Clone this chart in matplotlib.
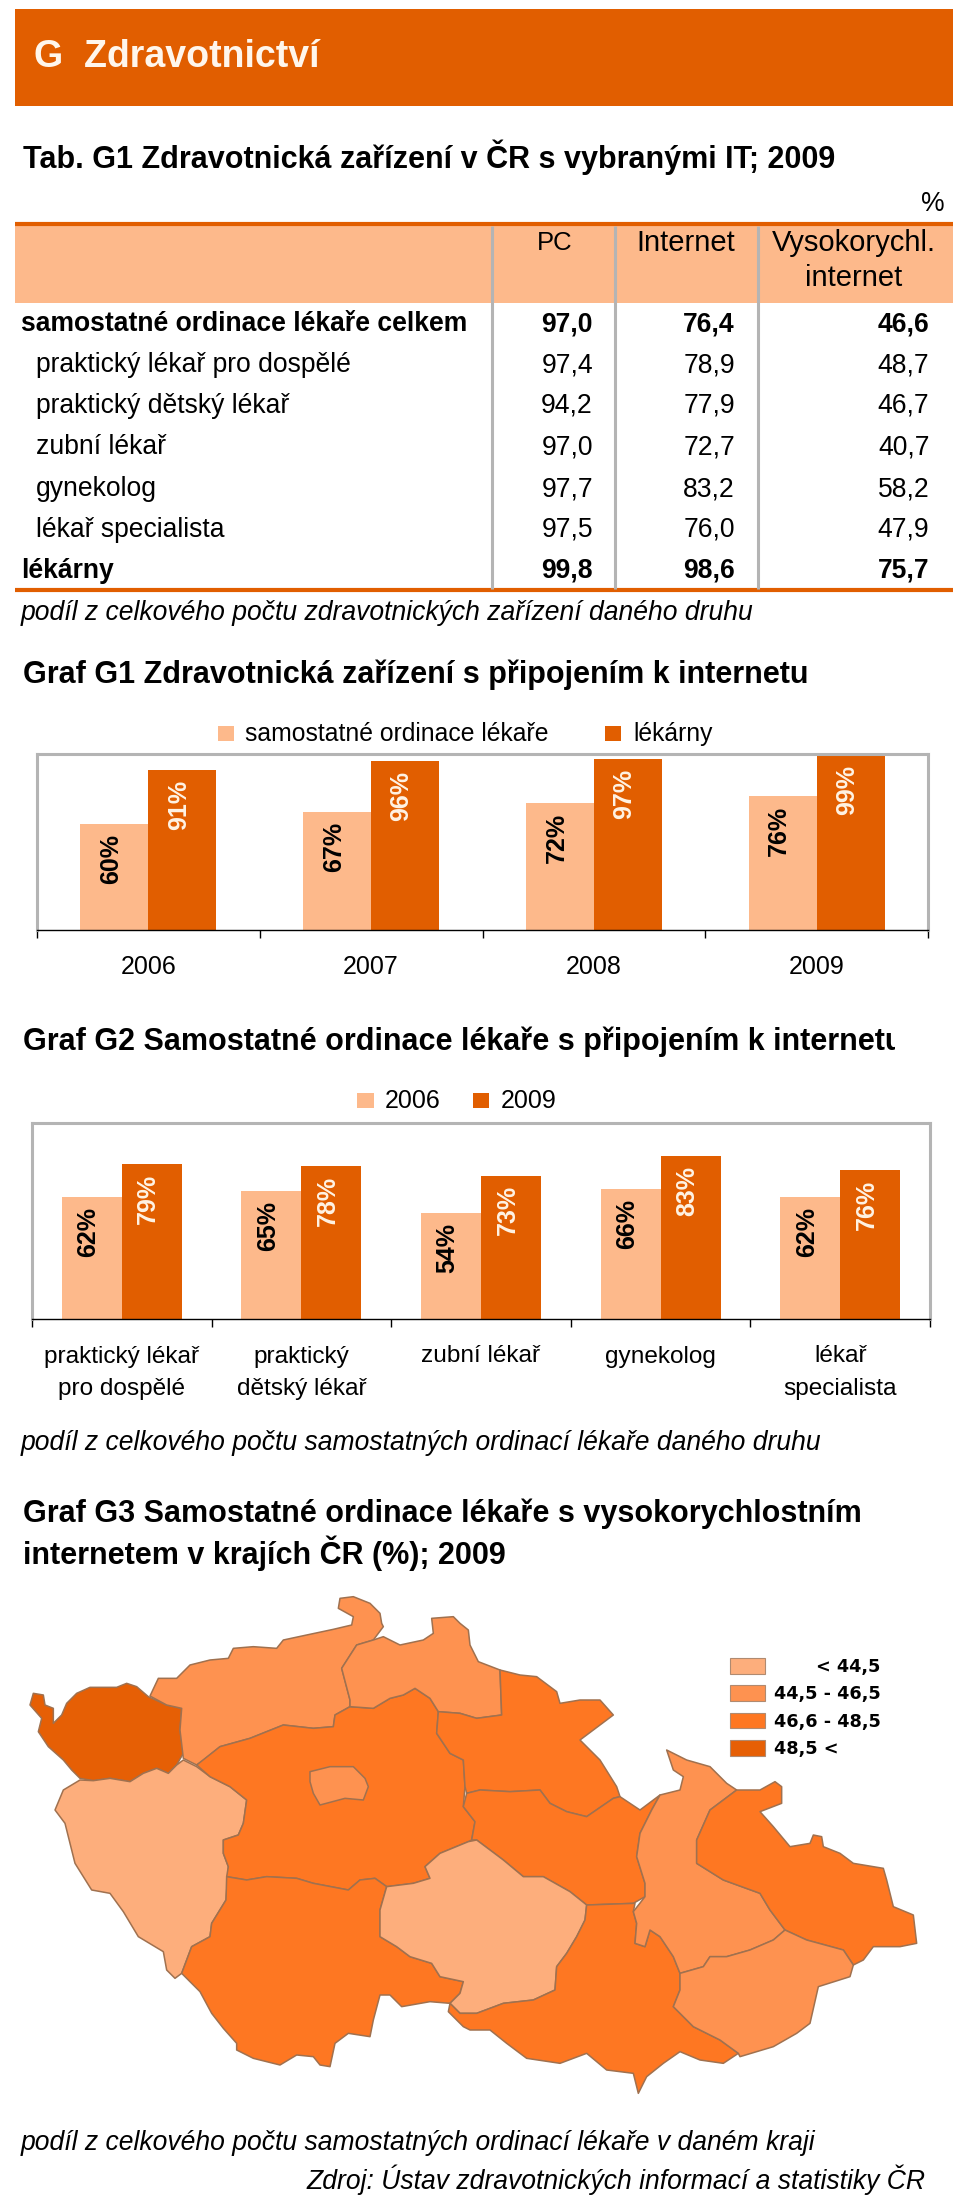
import matplotlib
matplotlib.use("Agg")
import matplotlib.pyplot as plt
from matplotlib.patches import Rectangle
from matplotlib.transforms import Bbox

plt.rcParams["font.family"] = ["Liberation Sans", "DejaVu Sans"]

DARK = "#E15E00"
LIGHT = "#FDB98B"
GREY = "#B4B4B4"

# table
table_cols = ["PC", "Internet", "Vysokorychl.\ninternet"]
table_rows = ["samostatné ordinace lékaře celkem", "praktický lékař pro dospělé", "praktický dětský lékař",
              "zubní lékař", "gynekolog", "lékař specialista", "lékárny"]
table_bold = [True, False, False, False, False, False, True]
table_pc = ["97,0", "97,4", "94,2", "97,0", "97,7", "97,5", "99,8"]
table_net = ["76,4", "78,9", "77,9", "72,7", "83,2", "76,0", "98,6"]
table_fast = ["46,6", "48,7", "46,7", "40,7", "58,2", "47,9", "75,7"]

# graf G1
g1_years = ["2006", "2007", "2008", "2009"]
g1_ordinace = [60, 67, 72, 76]
g1_lekarny = [91, 96, 97, 99]

# graf G2
g2_cats = ["praktický lékař\npro dospělé", "praktický\ndětský lékař", "zubní lékař", "gynekolog", "lékař\nspecialista"]
g2_2006 = [62, 65, 54, 66, 62]
g2_2009 = [79, 78, 73, 83, 76]

# graf G3, kraje: outlines, values are map units
map_colors = ["#FDAE7C", "#FE9250", "#FE7722", "#E65F05"]
map_labels = ["< 44,5", "44,5 - 46,5", "46,6 - 48,5", "48,5 <"]

karlovarsky = [(40, 310), (70, 315), (75, 345), (100, 355), (100, 400), (125, 375), (140, 340), (170, 310), (210, 292),
               (290, 292), (320, 280), (350, 290), (385, 320), (440, 345), (485, 355), (480, 420), (490, 490), (470, 525),
               (445, 550), (410, 535), (370, 550), (330, 575), (270, 565), (220, 572), (180, 565), (155, 540), (130, 510),
               (85, 470), (55, 425), (65, 385), (30, 345)]
plzensky = [(490, 510), (530, 530), (570, 560), (630, 590), (680, 630), (670, 700), (655, 735), (610, 750), (610, 790),
            (625, 830), (618, 930), (575, 1000), (570, 1040), (515, 1070), (485, 1150), (465, 1165), (440, 1140),
            (430, 1085), (355, 1040), (310, 965), (270, 910), (215, 900), (165, 820), (135, 700), (105, 660), (130, 600),
            (180, 570), (220, 572), (270, 565), (330, 575), (370, 550), (410, 535), (445, 550), (470, 525)]
ustecky = [(390, 318), (415, 265), (470, 265), (510, 225), (570, 210), (625, 205), (640, 175), (700, 170), (770, 175),
           (790, 150), (860, 135), (940, 118), (995, 105), (1000, 80), (955, 55), (960, 25), (1000, 20), (1050, 40),
           (1080, 70), (1085, 100), (1090, 110), (1060, 150), (1010, 165), (965, 235), (990, 330), (990, 350), (945, 375),
           (940, 410), (880, 415), (790, 405), (690, 445), (600, 470), (545, 515), (530, 525), (490, 505), (480, 420),
           (485, 355), (440, 345)]
stredocesky = [(530, 525), (600, 470), (690, 445), (790, 405), (880, 415), (940, 410), (945, 375), (990, 350), (1060, 355),
               (1110, 325), (1150, 315), (1185, 295), (1230, 325), (1255, 365), (1250, 430), (1290, 490), (1330, 510),
               (1335, 590), (1330, 650), (1365, 695), (1355, 750), (1345, 755), (1260, 790), (1215, 830), (1230, 865),
               (1180, 880), (1100, 890), (1065, 865), (1020, 870), (985, 900), (880, 880), (830, 865), (740, 860),
               (680, 870), (620, 860), (625, 830), (610, 790), (610, 750), (655, 735), (670, 700), (680, 630), (630, 590),
               (570, 560)]
praha = [(870, 545), (930, 530), (1000, 530), (1035, 565), (1045, 590), (1030, 630), (975, 625), (900, 645), (880, 610),
         (870, 575)]
jihocesky = [(620, 860), (680, 870), (740, 860), (830, 865), (880, 880), (985, 900), (1020, 870), (1065, 865), (1100, 890),
             (1080, 960), (1080, 1040), (1130, 1070), (1170, 1100), (1235, 1120), (1260, 1160), (1330, 1175), (1320, 1210),
             (1290, 1240), (1230, 1235), (1145, 1250), (1110, 1215), (1080, 1215), (1060, 1290), (1050, 1340), (985, 1330),
             (945, 1360), (930, 1430), (900, 1425), (880, 1400), (830, 1395), (780, 1425), (700, 1405), (650, 1380),
             (650, 1360), (610, 1315), (575, 1270), (540, 1205), (485, 1150), (515, 1070), (570, 1040), (575, 1000),
             (618, 930)]
liberecky = [(1010, 165), (1060, 150), (1090, 140), (1140, 165), (1210, 150), (1240, 130), (1235, 85), (1300, 80),
             (1320, 100), (1345, 120), (1350, 165), (1375, 215), (1440, 240), (1445, 375), (1370, 385), (1320, 370),
             (1255, 365), (1230, 325), (1185, 295), (1150, 315), (1110, 325), (1060, 355), (990, 350), (990, 330), (965, 235)]
kralovehradecky = [(1255, 365), (1320, 370), (1370, 385), (1445, 375), (1440, 240), (1500, 255), (1550, 260), (1610, 305),
                   (1620, 340), (1680, 330), (1740, 330), (1780, 375), (1720, 420), (1680, 450), (1740, 510), (1790, 590),
                   (1800, 620), (1780, 625), (1700, 680), (1640, 665), (1590, 640), (1560, 600), (1470, 605), (1380, 600),
                   (1340, 610), (1335, 590), (1330, 510), (1290, 490), (1250, 430)]
pardubicky = [(1340, 610), (1380, 600), (1470, 605), (1560, 600), (1590, 640), (1640, 665), (1700, 680), (1780, 625),
              (1800, 620), (1860, 660), (1920, 615), (1895, 660), (1860, 730), (1850, 800), (1875, 880), (1875, 920),
              (1840, 940), (1700, 945), (1650, 905), (1570, 860), (1510, 860), (1450, 810), (1370, 750), (1355, 750),
              (1365, 695), (1330, 650)]
vysocina = [(1345, 755), (1370, 750), (1450, 810), (1510, 860), (1570, 860), (1650, 905), (1700, 945), (1695, 990),
            (1670, 1040), (1640, 1090), (1610, 1130), (1605, 1200), (1540, 1230), (1450, 1240), (1370, 1270), (1320, 1270),
            (1290, 1240), (1320, 1210), (1330, 1175), (1260, 1160), (1235, 1120), (1170, 1100), (1130, 1070), (1080, 1040),
            (1080, 960), (1100, 890), (1180, 880), (1230, 865), (1215, 830), (1260, 790)]
jihomoravsky = [(1700, 945), (1845, 940), (1840, 965), (1850, 1000), (1845, 1060), (1875, 1070), (1890, 1020), (1920, 1040),
                (1960, 1100), (1980, 1150), (1980, 1200), (1960, 1250), (2020, 1310), (2100, 1350), (2155, 1390), (2110, 1420),
                (2040, 1410), (1980, 1385), (1930, 1420), (1880, 1460), (1855, 1510), (1840, 1450), (1760, 1440), (1700, 1390),
                (1620, 1420), (1520, 1405), (1460, 1360), (1410, 1320), (1350, 1320), (1330, 1310), (1285, 1265), (1290, 1240),
                (1320, 1270), (1370, 1270), (1450, 1240), (1540, 1230), (1605, 1200), (1610, 1130), (1640, 1090), (1670, 1040),
                (1695, 990)]
olomoucky = [(1940, 480), (2000, 510), (2070, 530), (2120, 580), (2150, 600), (2070, 660), (2030, 750), (2030, 820),
             (2110, 870), (2220, 910), (2250, 960), (2295, 1020), (2260, 1050), (2190, 1080), (2120, 1100), (2070, 1100),
             (2050, 1130), (1980, 1150), (1960, 1100), (1920, 1040), (1890, 1020), (1875, 1070), (1845, 1060), (1850, 1000),
             (1840, 965), (1875, 920), (1875, 880), (1850, 800), (1860, 730), (1895, 660), (1920, 615), (1980, 600),
             (1990, 560), (1960, 540)]
moravskoslezsky = [(2150, 600), (2220, 600), (2265, 575), (2285, 590), (2285, 640), (2220, 665), (2260, 710), (2310, 770),
                   (2370, 760), (2380, 735), (2405, 740), (2410, 770), (2460, 790), (2500, 820), (2590, 835), (2600, 870),
                   (2620, 950), (2680, 975), (2690, 1060), (2640, 1070), (2560, 1070), (2530, 1110), (2500, 1125), (2470, 1080),
                   (2360, 1050), (2295, 1020), (2250, 960), (2220, 910), (2110, 870), (2030, 820), (2030, 750), (2070, 660)]
zlinsky = [(2295, 1020), (2360, 1050), (2470, 1080), (2500, 1125), (2490, 1160), (2395, 1190), (2370, 1300), (2330, 1330),
           (2260, 1370), (2160, 1400), (2155, 1390), (2100, 1350), (2020, 1310), (1960, 1250), (1980, 1200), (1980, 1150),
           (2050, 1130), (2070, 1100), (2120, 1100), (2190, 1080), (2260, 1050)]

map_regions = [karlovarsky, plzensky, ustecky, stredocesky, praha, jihocesky, liberecky, kralovehradecky, pardubicky,
               vysocina, jihomoravsky, olomoucky, moravskoslezsky, zlinsky]
map_classes = [3, 0, 1, 2, 1, 2, 1, 2, 2, 0, 2, 1, 2, 1]


def px_axes(fig, x0, y0, x1, y1):
    # pixel box measured from the top left corner of the page
    return fig.add_axes([x0 / 960, 1 - y1 / 2200, (x1 - x0) / 960, (y1 - y0) / 2200])


def bar_panel(ax, cats, s1, s2, width, label_size, tick_len):
    n = len(cats)
    ax.set_xlim(0, n)
    ax.set_ylim(0, 100)
    for i in range(n):
        ax.bar(i + 0.5 - width / 2, s1[i], width, color=LIGHT, zorder=2)
        ax.bar(i + 0.5 + width / 2, s2[i], width, color=DARK, zorder=2)
        for val, off, col in [(s1[i], -width / 2, "black"), (s2[i], width / 2, "#FFF3E4")]:
            ax.annotate(f"{val}%", (i + 0.5 + off, val), xytext=(-2.5, -7), textcoords="offset points",
                        rotation=90, ha="center", va="top", fontsize=label_size, fontweight="bold", color=col)
    ax.set_xticks(range(n + 1))
    ax.set_xticklabels([])
    ax.tick_params(axis="x", which="major", length=tick_len, width=1, color="black")
    ax.set_yticks([])
    for side in ["top", "left", "right"]:
        ax.spines[side].set_color(GREY)
        ax.spines[side].set_linewidth(2.2)
    ax.spines["bottom"].set_color("black")
    ax.spines["bottom"].set_linewidth(1)
    ax.set_facecolor("white")


fig = plt.figure(figsize=(9.6, 22), dpi=100, facecolor="white")

# page overlay in pixels
page = fig.add_axes([0, 0, 1, 1], zorder=5)
page.set_xlim(0, 960)
page.set_ylim(2200, 0)
page.axis("off")
page.patch.set_alpha(0)

back = fig.add_axes([0, 0, 1, 1], zorder=0)
back.set_xlim(0, 960)
back.set_ylim(2200, 0)
back.axis("off")

TITLE = 22
BODY = 19.1
HEAD = 21

back.add_patch(Rectangle((15, 9), 938, 97, color=DARK, lw=0))
page.text(34, 57, "G  Zdravotnictví", color="#FFF6EC", fontsize=27, fontweight="bold", va="center")
page.text(23, 157, "Tab. G1 Zdravotnická zařízení v ČR s vybranými IT; 2009", fontsize=TITLE, fontweight="bold", va="center")
page.text(933, 204, "%", fontsize=BODY, ha="center", va="center")

back.add_patch(Rectangle((15, 224), 938, 79, color=LIGHT, lw=0))
back.plot([15, 953], [224, 224], color=DARK, lw=3, solid_capstyle="butt")
back.plot([15, 953], [590, 590], color=DARK, lw=3, solid_capstyle="butt")
for x in [492, 615, 758]:
    back.plot([x, x], [226, 589], color=GREY, lw=2.2, solid_capstyle="butt")

for x, col, size in zip([554.5, 686, 853.5], table_cols, [18.5, HEAD, HEAD]):
    for y, part in zip([243, 278], col.split("\n")):
        page.text(x, y, part, fontsize=size, ha="center", va="center")

row_y = [321, 362, 403, 444.5, 486, 527, 568]
for y, name, bold, a, b, c in zip(row_y, table_rows, table_bold, table_pc, table_net, table_fast):
    w = "bold" if bold else "normal"
    page.text(21 if bold else 35.5, y, name, fontsize=BODY, fontweight=w, va="center_baseline")
    for x, v in zip([593, 735, 929.5], [a, b, c]):
        page.text(x, y, v, fontsize=BODY, fontweight=w, ha="right", va="center_baseline")
page.text(21, 610, "podíl z celkového počtu zdravotnických zařízení daného druhu", fontsize=BODY, style="italic", va="center_baseline")

# G1
page.text(23, 671, "Graf G1 Zdravotnická zařízení s připojením k internetu", fontsize=TITLE, fontweight="bold", va="center_baseline")
page.add_patch(Rectangle((217.5, 726), 16, 15, color=LIGHT, lw=0))
page.text(245, 731.5, "samostatné ordinace lékaře", fontsize=17.8, va="center_baseline")
page.add_patch(Rectangle((605, 726), 16, 15, color=DARK, lw=0))
page.text(633.5, 731.5, "lékárny", fontsize=17.8, va="center_baseline")

ax1 = px_axes(fig, 37, 754, 928, 929.5)
bar_panel(ax1, g1_years, g1_ordinace, g1_lekarny, 0.305, 18, 6)
for i, lab in enumerate(g1_years):
    page.text(37 + (i + 0.5) * (928 - 37) / 4, 964, lab, fontsize=18, ha="center", va="center_baseline")

# G2
g2_title = page.text(23, 1038.5, "Graf G2 Samostatné ordinace lékaře s připojením k internetu", fontsize=TITLE, fontweight="bold", va="center_baseline")
g2_title.set_clip_on(True)
g2_title.set_clip_box(Bbox([[0, 0], [895, 2200]]))
page.add_patch(Rectangle((357, 1093), 17, 15, color=LIGHT, lw=0))
page.text(385, 1098, "2006", fontsize=18, va="center_baseline")
page.add_patch(Rectangle((473, 1093), 16, 15, color=DARK, lw=0))
page.text(500.5, 1098, "2009", fontsize=18, va="center_baseline")

ax2 = px_axes(fig, 32, 1122.5, 930, 1319)
bar_panel(ax2, g2_cats, g2_2006, g2_2009, 0.334, 18, 6)
for i, lab in enumerate(g2_cats):
    x = 32 + (i + 0.5) * (930 - 32) / 5
    for y, part in zip([1354, 1386], lab.split("\n")):
        page.text(x, y, part, fontsize=17.6, ha="center", va="center_baseline")
page.text(21, 1439.5, "podíl z celkového počtu samostatných ordinací lékaře daného druhu", fontsize=BODY, style="italic", va="center_baseline")

# G3
page.text(23, 1510.5, "Graf G3 Samostatné ordinace lékaře s vysokorychlostním", fontsize=TITLE, fontweight="bold", va="center_baseline")
page.text(23, 1549.5, "internetem v krajích ČR (%); 2009", fontsize=TITLE, fontweight="bold", va="center_baseline")

ax3 = px_axes(fig, 20, 1590, 960, 2110)
ax3.set_xlim(0, 2820)
ax3.set_ylim(1560, 0)
ax3.axis("off")
for region, cls in zip(map_regions, map_classes):
    xs, ys = zip(*region)
    ax3.fill(xs, ys, facecolor=map_colors[cls], edgecolor="#A0714F", linewidth=1.1, joinstyle="round")

for i, (col, lab) in enumerate(zip(map_colors, map_labels)):
    y = 1658 + i * 27.4
    page.add_patch(Rectangle((730, y), 35, 15.5, facecolor=col, edgecolor="#B08A70", lw=0.8))
    if i == 0:
        page.text(880, y + 7, lab, fontsize=12.7, fontweight="bold", ha="right", va="center_baseline", family="DejaVu Sans")
    else:
        page.text(774, y + 7, lab, fontsize=12.7, fontweight="bold", va="center_baseline", family="DejaVu Sans")

page.text(21, 2140, "podíl z celkového počtu samostatných ordinací lékaře v daném kraji", fontsize=BODY, style="italic", va="center_baseline")
page.text(926, 2177, "Zdroj: Ústav zdravotnických informací a statistiky ČR", fontsize=BODY, style="italic", ha="right", va="center_baseline")

fig.savefig("out.png", dpi=100)
